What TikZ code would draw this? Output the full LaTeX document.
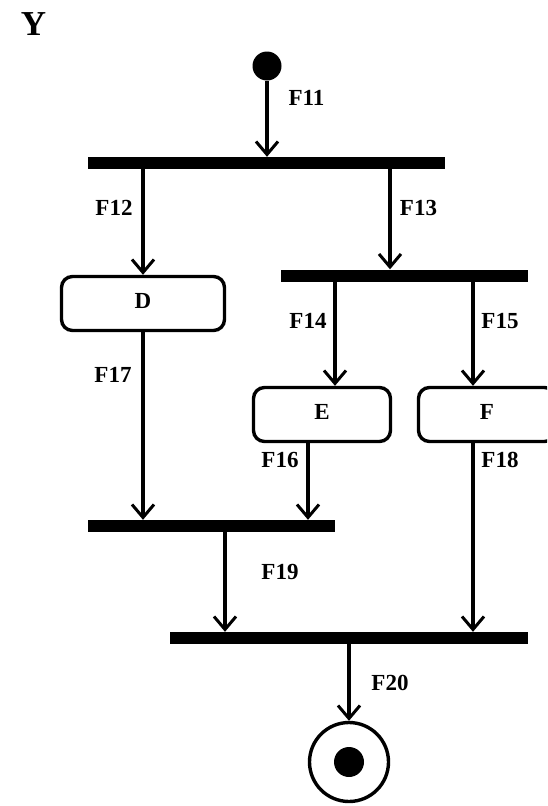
\documentclass[tikz,border=0pt]{standalone}
\usepackage{fontspec}
\setmainfont{Liberation Serif}
\usetikzlibrary{arrows.meta}
\begin{document}
\begin{tikzpicture}[x=1pt,y=-1pt,
  lbl/.style={font=\bfseries\fontsize{23}{26}\selectfont, inner sep=0pt},
  bar/.style={fill=black, draw=none, inner sep=0pt, minimum height=12pt},
  act/.style={draw, line width=3.4pt, rounded corners=11pt, minimum height=54pt, inner sep=0pt, font=\bfseries\fontsize{23}{26}\selectfont},
  flow/.style={line width=3.4pt, -{Straight Barb[length=13pt,width=22pt,line width=3pt]}},
  line/.style={line width=3.4pt}]
\useasboundingbox (0,0) rectangle (547,806);
\clip (0,0) rectangle (547,806);
\node[font=\bfseries\fontsize{35}{38}\selectfont, inner sep=0pt] (y) at (33.5,24) {Y};
\node[circle, fill=black, minimum size=29pt, inner sep=0pt] (start) at (267,66) {};
\node[bar, minimum width=357pt] (b1) at (266.5,163) {};
\node[bar, minimum width=247pt] (b2) at (404.5,275.5) {};
\node[bar, minimum width=247pt] (b3) at (211.5,526) {};
\node[bar, minimum width=358pt] (b4) at (349,638) {};
\node[act, minimum width=163pt] (d) at (143,303.5) {\raisebox{5pt}{D}};
\node[act, minimum width=137pt] (e) at (322,414.5) {\raisebox{5pt}{E}};
\node[act, minimum width=137pt] (f) at (487,414.5) {\raisebox{5pt}{F}};
\node[circle, draw, line width=3.4pt, minimum size=79pt, inner sep=0pt] (end) at (349,762) {};
\node[circle, fill=black, minimum size=30pt, inner sep=0pt] (endin) at (end) {};
\coordinate (c13) at (390,0);
\coordinate (c14) at (335,0);
\coordinate (c15) at (473,0);
\coordinate (c16) at (308,0);
\coordinate (c19) at (225,0);
\draw[flow] (start) -- (b1.north -| start);
\draw[flow] (b1.south -| d.north) -- (d.north);
\draw[flow] (b1.south -| c13) -- (b2.north -| c13);
\draw[flow] (b2.south -| c14) -- (e.north -| c14);
\draw[flow] (b2.south -| c15) -- (f.north -| c15);
\draw[flow] (d.south) -- (b3.north -| d.south);
\draw[flow] (e.south -| c16) -- (b3.north -| c16);
\draw[flow] (b3.south -| c19) -- (b4.north -| c19);
\draw[flow] (f.south -| c15) -- (b4.north -| c15);
\draw[flow] (b4.south -| end.north) -- (end.north);
\node[lbl] (l11) at (306.5,98) {F11};
\node[lbl] (l12) at (114,208) {F12};
\node[lbl] (l13) at (418.5,208) {F13};
\node[lbl] (l14) at (308,321) {F14};
\node[lbl] (l15) at (500,321) {F15};
\node[lbl] (l17) at (113,375) {F17};
\node[lbl] (l16) at (280,460) {F16};
\node[lbl] (l18) at (500,460) {F18};
\node[lbl] (l19) at (280,572) {F19};
\node[lbl] (l20) at (390,683) {F20};
\end{tikzpicture}
\end{document}
